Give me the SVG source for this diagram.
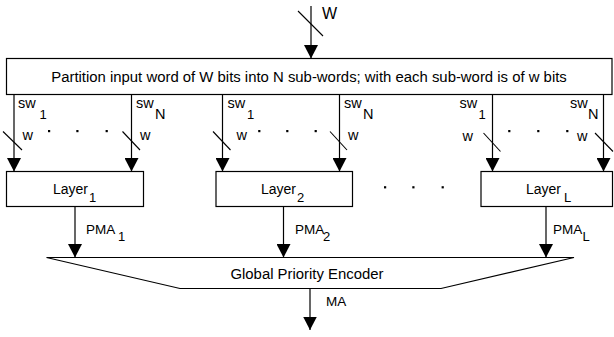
<svg xmlns="http://www.w3.org/2000/svg" width="614" height="337" viewBox="0 0 614 337">
  <defs>
    <marker id="arrow" markerUnits="userSpaceOnUse" markerWidth="14" markerHeight="14" refX="13.5" refY="7" orient="auto">
      <path d="M0,0 L13.5,7 L0,14 Z" fill="#000"/>
    </marker>
    <style>
      .box { fill: #fff; stroke: #000; stroke-width: 1.2; }
      .arr { stroke: #000; stroke-width: 1.2; fill: none; marker-end: url(#arrow); }
      .slash { stroke: #000; stroke-width: 1.1; }
      .dot { fill: #000; }
      text { font-family: "Liberation Sans", Arial, Helvetica, sans-serif; fill: #000; }
      .main { font-size: 14.9px; }
      .sw { font-size: 14.5px; }
      .lbl { font-size: 14px; }
      .pma { font-size: 13.5px; }
      .sub { font-size: 13px; }
    </style>
  </defs>

  <!-- connectors: buses, arrows and bus-width slashes -->
  <g id="connectors">
    <line class="arr" x1="311" y1="6" x2="311" y2="58.5"/>
    <line class="slash" x1="298" y1="11" x2="323" y2="36"/>

    <!-- group 1 -->
    <line class="arr" x1="14" y1="94.5" x2="14" y2="171.5"/>
    <line class="arr" x1="131.5" y1="94.5" x2="131.5" y2="171.5"/>
    <line class="slash" x1="3" y1="131.5" x2="22" y2="150"/>
    <line class="slash" x1="122.5" y1="131.5" x2="140" y2="150"/>
    <!-- group 2 -->
    <line class="arr" x1="222.5" y1="94.5" x2="222.5" y2="171.5"/>
    <line class="arr" x1="339.5" y1="94.5" x2="339.5" y2="171.5"/>
    <line class="slash" x1="213" y1="131.5" x2="230.5" y2="150"/>
    <line class="slash" x1="330" y1="131.5" x2="347" y2="150"/>
    <!-- group L -->
    <line class="arr" x1="492.5" y1="94.5" x2="492.5" y2="171.5"/>
    <line class="arr" x1="603.5" y1="94.5" x2="603.5" y2="171.5"/>
    <line class="slash" x1="483.5" y1="133" x2="500.5" y2="151.5"/>
    <line class="slash" x1="595" y1="133" x2="613" y2="151.5"/>

    <!-- partial match addresses -->
    <line class="arr" x1="75" y1="206.5" x2="75" y2="257.5"/>
    <line class="arr" x1="283.5" y1="206.5" x2="283.5" y2="257.5"/>
    <line class="arr" x1="546" y1="206.5" x2="546" y2="257.5"/>

    <!-- match address -->
    <line class="arr" x1="310" y1="288.5" x2="310" y2="330"/>
  </g>

  <!-- ellipsis dots -->
  <g id="ellipses">
    <rect class="dot" x="48" y="130" width="2.2" height="2.2"/>
    <rect class="dot" x="76.3" y="130" width="2.2" height="2.2"/>
    <rect class="dot" x="105.6" y="130" width="2.2" height="2.2"/>
    <rect class="dot" x="258.2" y="130" width="2.2" height="2.2"/>
    <rect class="dot" x="286.2" y="130" width="2.2" height="2.2"/>
    <rect class="dot" x="314.6" y="130" width="2.2" height="2.2"/>
    <rect class="dot" x="508.2" y="130" width="2.2" height="2.2"/>
    <rect class="dot" x="537.2" y="130" width="2.2" height="2.2"/>
    <rect class="dot" x="566.2" y="130" width="2.2" height="2.2"/>
    <rect class="dot" x="384" y="186.2" width="2.2" height="2.2"/>
    <rect class="dot" x="412.3" y="186.2" width="2.2" height="2.2"/>
    <rect class="dot" x="441.6" y="186.2" width="2.2" height="2.2"/>
  </g>

  <!-- input word label -->
  <g id="input">
    <text x="322" y="19" style="font-size:16px">W</text>
  </g>

  <g id="partition">
    <rect class="box" x="6.5" y="58.5" width="605.5" height="36"/>
    <text class="main" x="309" y="81.5" text-anchor="middle">Partition input word of W bits into N sub-words; with each sub-word is of w bits</text>
  </g>

  <!-- sub-word labels -->
  <g id="subword-labels">
    <text class="sw" x="18" y="108">sw<tspan class="sub" x="39.5" y="118.5">1</tspan></text>
    <text class="sw" x="136" y="108">sw<tspan x="155" y="118.5">N</tspan></text>
    <text class="sw" x="22.5" y="140">w</text>
    <text class="sw" x="140" y="140">w</text>

    <text class="sw" x="227.5" y="108">sw<tspan class="sub" x="247" y="118.5">1</tspan></text>
    <text class="sw" x="344" y="108">sw<tspan x="363" y="118.5">N</tspan></text>
    <text class="sw" x="236.5" y="140">w</text>
    <text class="sw" x="348" y="140">w</text>

    <text class="sw" x="459.5" y="108">sw<tspan class="sub" x="478.5" y="118.5">1</tspan></text>
    <text class="sw" x="570" y="108">sw<tspan x="588" y="118.5">N</tspan></text>
    <text class="sw" x="462.5" y="141">w</text>
    <text class="sw" x="577" y="141">w</text>
  </g>

  <g id="layer1">
    <rect class="box" x="6.5" y="171.5" width="137" height="35"/>
    <text class="lbl" x="53" y="194">Layer<tspan class="sub" x="89" y="201.5">1</tspan></text>
  </g>

  <g id="layer2">
    <rect class="box" x="216" y="171.5" width="136.5" height="35"/>
    <text class="lbl" x="261" y="194">Layer<tspan class="sub" x="297" y="201.5">2</tspan></text>
  </g>

  <g id="layerL">
    <rect class="box" x="481" y="171.5" width="131.5" height="35"/>
    <text class="lbl" x="526" y="194">Layer<tspan class="sub" x="564" y="201.5">L</tspan></text>
  </g>

  <!-- partial match address labels -->
  <g id="pma-labels">
    <text class="pma" x="86" y="234">PMA<tspan class="sub" x="118" y="241">1</tspan></text>
    <text class="pma" x="295" y="234">PMA<tspan class="sub" x="323" y="241">2</tspan></text>
    <text class="pma" x="553" y="234">PMA<tspan class="sub" x="582.5" y="241">L</tspan></text>
  </g>

  <g id="encoder">
    <path class="box" d="M46.5,257.5 L574,257.5 L441,288.5 L180,288.5 Z"/>
    <text class="main" x="307" y="278.5" text-anchor="middle">Global Priority Encoder</text>
  </g>

  <g id="ma-label">
    <text class="pma" x="326" y="306">MA</text>
  </g>
</svg>
